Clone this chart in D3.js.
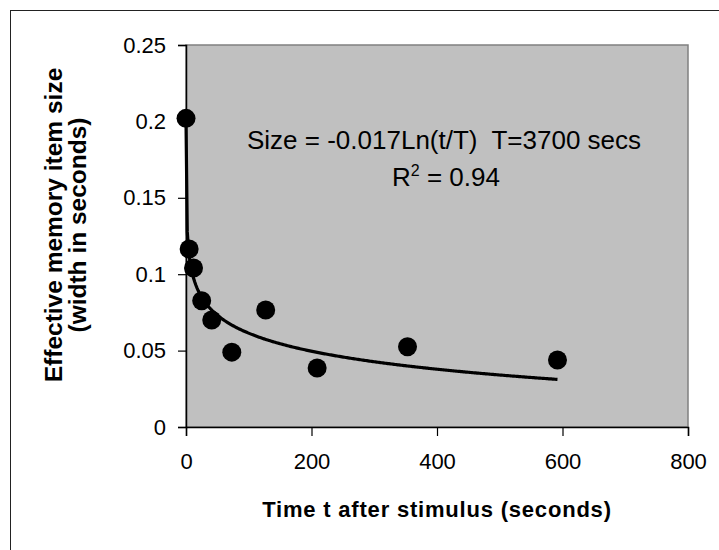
<!DOCTYPE html>
<html>
<head>
<meta charset="utf-8">
<script src="https://cdn.jsdelivr.net/npm/d3@7"></script>
<style>
  body { margin: 0; background: #fff; }
  svg text { font-family: "Liberation Sans", Arial, sans-serif; }
</style>
</head>
<body>
<div id="chart"></div>
<script>
// data
var times = [0.03, 5, 12, 25, 41, 73, 127, 209, 353, 592];
var sizes = [0.202, 0.1165, 0.104, 0.0826, 0.070, 0.049, 0.0766, 0.0386, 0.0525, 0.0438];
var xTicks = [0, 200, 400, 600, 800];
var yTicks = [0, 0.05, 0.1, 0.15, 0.2, 0.25];
var yTickLabels = ['0', '0.05', '0.1', '0.15', '0.2', '0.25'];
// fitted trend shown on the chart: Size = -0.017 Ln(t/T), T = 3700
var fitSlope = -0.017;
var fitT = 3700;

function drawChart(){
    var width = 719, height = 550;
    var plot = {left: 186, top: 45, right: 688, bottom: 427};

    var svg = d3.select('#chart')
        .append('svg')
        .attr('width', width)
        .attr('height', height);

    // chart area border (runs off the bottom/right edge)
    svg.append('rect')
        .attr('x', 10.5).attr('y', 10.5)
        .attr('width', 720).attr('height', 550)
        .attr('fill', 'none')
        .attr('stroke', '#222')
        .attr('stroke-width', 1);

    var x = d3.scaleLinear().domain([0, 800]).range([plot.left, plot.right]);
    var y = d3.scaleLinear().domain([0, 0.25]).range([plot.bottom, plot.top]);

    svg.append('rect')
        .attr('x', plot.left).attr('y', plot.top)
        .attr('width', plot.right - plot.left)
        .attr('height', plot.bottom - plot.top)
        .attr('fill', '#c0c0c0')
        .attr('stroke', '#808080')
        .attr('stroke-width', 1.5);

    var yAxis = svg.append('g')
        .attr('transform', 'translate(' + plot.left + ',0)')
        .call(d3.axisLeft(y).tickValues(yTicks)
            .tickFormat(function(d, i){ return yTickLabels[i]; })
            .tickSize(8).tickPadding(12));
    var xAxis = svg.append('g')
        .attr('transform', 'translate(0,' + plot.bottom + ')')
        .call(d3.axisBottom(x).tickValues(xTicks)
            .tickFormat(d3.format('d'))
            .tickSize(9).tickPadding(17));

    [yAxis, xAxis].forEach(function(ax){
        ax.select('.domain').attr('stroke', '#000').attr('stroke-width', 1.5);
        ax.selectAll('.tick line').attr('stroke', '#000').attr('stroke-width', 1.2);
        ax.selectAll('.tick text')
            .attr('fill', '#000')
            .style('font-size', '22px');
    });

    // trend line
    var tMin = d3.min(times), tMax = d3.max(times);
    var fit = d3.range(0, 301).map(function(i){
        var t = tMin + (tMax - tMin) * i / 300;
        return [t, fitSlope * Math.log(t / fitT)];
    });
    svg.append('path')
        .datum(fit)
        .attr('d', d3.line()
            .x(function(d){ return x(d[0]); })
            .y(function(d){ return y(d[1]); }))
        .attr('fill', 'none')
        .attr('stroke', '#000')
        .attr('stroke-width', 3.2);

    svg.selectAll('.dot')
        .data(times)
        .enter()
        .append('circle')
        .attr('class', 'dot')
        .attr('cx', function(d){ return x(d); })
        .attr('cy', function(d, i){ return y(sizes[i]); })
        .attr('r', 9.5)
        .attr('fill', '#000');

    // equation annotation
    svg.append('text')
        .attr('x', 247).attr('y', 149)
        .style('font-size', '26px')
        .attr('xml:space', 'preserve')
        .text('Size = -0.017Ln(t/T)  T=3700 secs');
    var r2 = svg.append('text')
        .attr('x', 392).attr('y', 186)
        .style('font-size', '26px');
    r2.append('tspan').text('R');
    r2.append('tspan').attr('dy', -10).style('font-size', '16px').text('2');
    r2.append('tspan').attr('dy', 10).text(' = 0.94');

    // axis titles
    svg.append('text')
        .attr('x', (plot.left + plot.right) / 2).attr('y', 517)
        .attr('text-anchor', 'middle')
        .style('font-size', '22px')
        .style('letter-spacing', '0.8px')
        .style('font-weight', 'bold')
        .text('Time t after stimulus (seconds)');

    var yt = svg.append('text')
        .attr('transform', 'translate(0,225) rotate(-90)')
        .attr('text-anchor', 'middle')
        .style('font-size', '24.5px')
        .style('font-weight', 'bold');
    yt.append('tspan').attr('y', 62).attr('x', 0).text('Effective memory item size');
    yt.append('tspan').attr('y', 86).attr('x', 0).text('(width in seconds)');
}

drawChart();
</script>
</body>
</html>
